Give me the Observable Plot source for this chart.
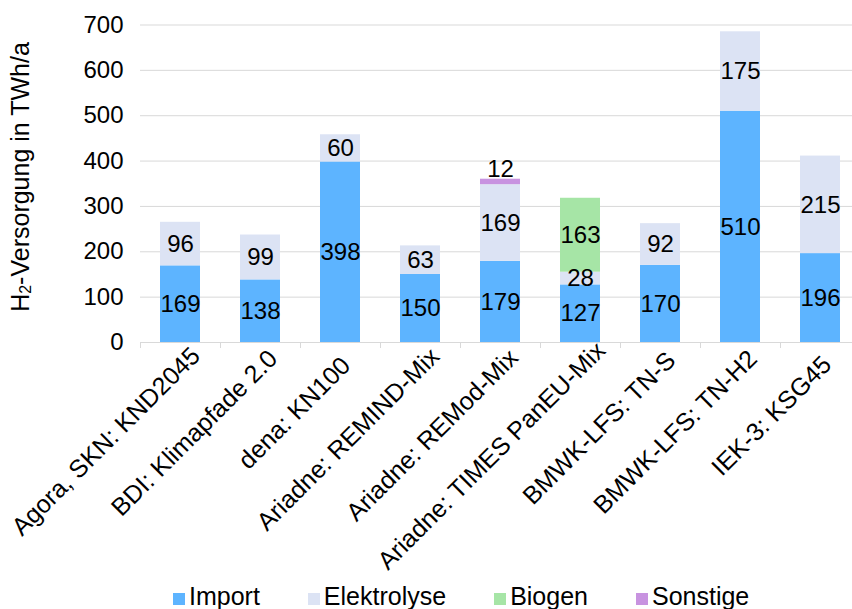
<!DOCTYPE html>
<html><head><meta charset="utf-8">
<script src="https://cdn.jsdelivr.net/npm/d3@7"></script>
<script src="https://cdn.jsdelivr.net/npm/@observablehq/plot@0.6"></script>
<style>
html,body{margin:0;padding:0;background:#fff;overflow:hidden;width:852px;height:609px;}
#chart{position:relative;width:852px;height:609px;font-family:"Liberation Sans",Arial,sans-serif;}
#legend{position:absolute;left:173px;top:584px;display:flex;font-size:25px;line-height:25px;white-space:nowrap;color:#000;}
.item{display:flex;align-items:baseline;margin-right:48px;}
.sw{display:inline-block;width:12px;height:12px;margin-right:4px;}
</style></head><body><div id="chart"><div id="legend"></div></div>
<script>
const categories = [
  "Agora, SKN: KND2045",
  "BDI: Klimapfade 2.0",
  "dena: KN100",
  "Ariadne: REMIND-Mix",
  "Ariadne: REMod-Mix",
  "Ariadne: TIMES PanEU-Mix",
  "BMWK-LFS: TN-S",
  "BMWK-LFS: TN-H2",
  "IEK-3: KSG45"
];
const seriesNames = ["Import", "Elektrolyse", "Biogen", "Sonstige"];
const importValues      = [169, 138, 398, 150, 179, 127, 170, 510, 196];
const elektrolyseValues = [ 96,  99,  60,  63, 169,  28,  92, 175, 215];
const biogenValues      = [  0,   0,   0,   0,   0, 163,   0,   0,   0];
const sonstigeValues    = [  0,   0,   0,   0,  12,   0,   0,   0,   0];
const seriesColors = ["#5DB4FF", "#DCE3F4", "#A6E5A6", "#C893E0"];
const yTicks = [0, 100, 200, 300, 400, 500, 600, 700];

const FONT = '"Liberation Sans", Arial, sans-serif';
const FS = 24;
const FSX = 25;

const valuesBySeries = [importValues, elektrolyseValues, biogenValues, sonstigeValues];
const rows = [];
categories.forEach((cat, i) => {
  let base = 0;
  seriesNames.forEach((s, j) => {
    const v = valuesBySeries[j][i];
    if (v > 0) { rows.push({cat, series: s, value: v, y1: base, y2: base + v}); base += v; }
  });
});

const ctx = document.createElement("canvas").getContext("2d");
ctx.font = `24px ${FONT}`;
const labelMarks = categories.map(c => {
  const L = ctx.measureText(c).width;
  const s = -2 + 0.095 * L;
  return Plot.text([c], {x: d => d, frameAnchor: "bottom", rotate: -45, textAnchor: "end",
    lineAnchor: "bottom", dx: s, dy: 36 - s, fontSize: FSX, fill: "#000"});
});

const plot = Plot.plot({
  width: 852, height: 585,
  marginLeft: 140, marginRight: 0, marginTop: 24.5, marginBottom: 243,
  style: {fontFamily: FONT, fontSize: FS + "px", color: "#000", background: "#fff", overflow: "visible"},
  x: {domain: categories, range: [140, 860], paddingInner: 0.5, paddingOuter: 0.25, axis: null},
  y: {domain: [0, 700], label: null, axis: null},
  color: {domain: seriesNames, range: seriesColors},
  marks: [
    Plot.ruleY(yTicks, {stroke: "#d9d9d9", strokeWidth: 1}),
    Plot.ruleX(categories, {x: d => d, dx: -40, insetTop: 342 - 24.5, insetBottom: -6, stroke: "#d9d9d9"}),
    Plot.barY(rows, {x: "cat", y1: "y1", y2: "y2", fill: "series"}),
    Plot.text(rows.filter(d => d.series !== "Sonstige"), {x: "cat", y: d => (d.y1 + d.y2) / 2, text: "value", fontSize: FS, fill: "#000"}),
    Plot.text(rows.filter(d => d.series === "Sonstige"), {x: "cat", y: "y2", text: "value", lineAnchor: "bottom", dy: -2, fontSize: FS, fill: "#000"}),
    Plot.axisY({ticks: yTicks, tickSize: 0, tickPadding: 17, fontSize: FS, label: null}),
    ...labelMarks
  ]
});
document.getElementById("chart").prepend(plot);

const svg = d3.select(plot);
const t = svg.append("text")
  .attr("transform", "translate(20,177) rotate(-90)")
  .attr("text-anchor", "middle")
  .attr("dominant-baseline", "central")
  .attr("font-size", 25)
  .attr("fill", "#000");
t.append("tspan").text("H");
t.append("tspan").attr("font-size", 16).attr("dy", 5).text("2");
t.append("tspan").attr("dy", -5).text("-Versorgung in TWh/a");

const legend = document.getElementById("legend");
seriesNames.forEach((s, j) => {
  const item = document.createElement("div");
  item.className = "item";
  const sw = document.createElement("span");
  sw.className = "sw";
  sw.style.background = seriesColors[j];
  const tx = document.createElement("span");
  tx.textContent = s;
  item.append(sw, tx);
  legend.append(item);
});
</script>
</body></html>
